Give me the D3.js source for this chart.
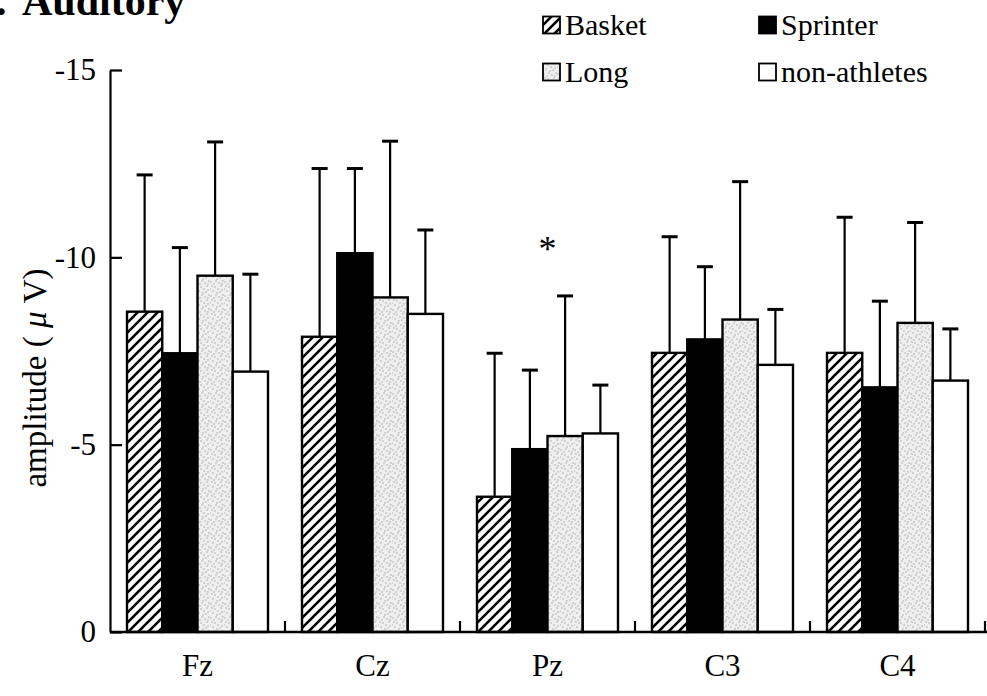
<!DOCTYPE html>
<html>
<head>
<meta charset="utf-8">
<script src="https://cdn.jsdelivr.net/npm/d3@7"></script>
<style>
  html, body { margin: 0; padding: 0; background: #fff; }
  svg { display: block; }
  text { font-family: "Liberation Serif", "Times New Roman", serif; fill: #000; }
</style>
</head>
<body>
<svg id="chart" width="987" height="696"></svg>
<script>
const categories = ["Fz", "Cz", "Pz", "C3", "C4"];
const groups = ["Basket", "Sprinter", "Long", "non-athletes"];
const basketMean = [-8.55, -7.88, -3.61, -7.45, -7.45];
const basketSD = [3.65, 4.49, 3.83, 3.10, 3.62];
const sprinterMean = [-7.44, -10.11, -4.88, -7.81, -6.53];
const sprinterSD = [2.82, 2.26, 2.11, 1.94, 2.30];
const longMean = [-9.51, -8.93, -5.23, -8.34, -8.25];
const longSD = [3.57, 4.17, 3.74, 3.68, 2.68];
const nonMean = [-6.95, -8.49, -5.30, -7.13, -6.71];
const nonSD = [2.60, 2.24, 1.29, 1.48, 1.38];
const yTicks = [0, -5, -10, -15];
const yTickLabels = ["0", "-5", "-10", "-15"];
const titleParts = [".", "Auditory"];
const sigMark = { category: "Pz", value: -10.35, text: "*" };

const means = [basketMean, sprinterMean, longMean, nonMean];
const sds = [basketSD, sprinterSD, longSD, nonSD];
const data = [];
categories.forEach((c, ci) => {
  groups.forEach((g, gi) => {
    data.push({ cat: c, grp: g, gi: gi, mean: means[gi][ci], sd: sds[gi][ci] });
  });
});

const svg = d3.select("#chart");
const defs = svg.append("defs");

// hatch pattern
const hatch = defs.append("pattern").attr("id", "hatch")
  .attr("patternUnits", "userSpaceOnUse").attr("width", 10).attr("height", 10);
hatch.append("rect").attr("width", 10).attr("height", 10).attr("fill", "#fff");
hatch.append("path").attr("d", "M-2,2 L2,-2 M0,10 L10,0 M8,12 L12,8")
  .attr("stroke", "#000").attr("stroke-width", 2.6);

// stipple pattern
const stip = defs.append("pattern").attr("id", "stipple")
  .attr("patternUnits", "userSpaceOnUse").attr("width", 14).attr("height", 14);
stip.append("rect").attr("width", 14).attr("height", 14).attr("fill", "#efefef");
const dots = [[1,2],[5,7],[9,3],[12,10],[3,11],[7,13],[11,6],[2,6],[8,9],[13,1],[4,4],[10,12],[6,1],[0,9],[12,4]];
stip.selectAll("circle").data(dots).enter().append("circle")
  .attr("cx", d => d[0]).attr("cy", d => d[1]).attr("r", 0.75).attr("fill", "#a8a8a8");

const fills = ["url(#hatch)", "#000", "url(#stipple)", "#fff"];

const y = d3.scaleLinear().domain([0, -15]).range([632, 70]);
const x0 = d3.scaleBand().domain(categories).range([110, 985]).padding(0);
const x1 = d3.scaleBand().domain(groups).range([17, 158]).padding(0);

// bars
svg.append("g").selectAll("rect").data(data).enter().append("rect")
  .attr("x", d => x0(d.cat) + x1(d.grp))
  .attr("y", d => y(d.mean))
  .attr("width", x1.bandwidth())
  .attr("height", d => y(0) - y(d.mean))
  .attr("fill", d => fills[d.gi])
  .attr("stroke", "#000").attr("stroke-width", 2.4);

// error bars
const eb = svg.append("g").selectAll("g").data(data).enter().append("g");
eb.append("line")
  .attr("x1", d => x0(d.cat) + x1(d.grp) + x1.bandwidth() / 2)
  .attr("x2", d => x0(d.cat) + x1(d.grp) + x1.bandwidth() / 2)
  .attr("y1", d => y(d.mean))
  .attr("y2", d => y(d.mean - d.sd))
  .attr("stroke", "#000").attr("stroke-width", 2.2);
eb.append("line")
  .attr("x1", d => x0(d.cat) + x1(d.grp) + x1.bandwidth() / 2 - 8)
  .attr("x2", d => x0(d.cat) + x1(d.grp) + x1.bandwidth() / 2 + 8)
  .attr("y1", d => y(d.mean - d.sd))
  .attr("y2", d => y(d.mean - d.sd))
  .attr("stroke", "#000").attr("stroke-width", 3);

// y axis
const yAxis = d3.axisLeft(y).tickValues(yTicks)
  .tickFormat((d, i) => yTickLabels[i])
  .tickSize(-12).tickSizeOuter(0).tickPadding(14);
const gy = svg.append("g").attr("transform", "translate(110,0)").call(yAxis);
gy.select(".domain").attr("stroke", "#000").attr("stroke-width", 2.2);
gy.selectAll(".tick line").attr("stroke", "#000").attr("stroke-width", 2.2);
gy.selectAll(".tick text").attr("font-size", 31)
  .attr("font-family", "Liberation Serif").attr("fill", "#000");

// x axis
svg.append("line").attr("x1", 110).attr("x2", 987).attr("y1", y(0)).attr("y2", y(0))
  .attr("stroke", "#000").attr("stroke-width", 2.4);
svg.append("g").selectAll("line").data(categories).enter().append("line")
  .attr("x1", d => x0(d) + x0.bandwidth()).attr("x2", d => x0(d) + x0.bandwidth())
  .attr("y1", y(0)).attr("y2", y(0) - 11)
  .attr("stroke", "#000").attr("stroke-width", 2.2);
svg.append("g").selectAll("text").data(categories).enter().append("text")
  .attr("x", d => x0(d) + x0.bandwidth() / 2).attr("y", 676)
  .attr("text-anchor", "middle").attr("font-size", 31).text(d => d);

// y label
const yl = svg.append("text")
  .attr("transform", "translate(46,378) rotate(-90)")
  .attr("text-anchor", "middle").attr("font-size", 33);
yl.append("tspan").text("amplitude ( ");
yl.append("tspan").attr("font-style", "italic").text("μ");
yl.append("tspan").text(" V)");

// significance
svg.append("text")
  .attr("x", x0(sigMark.category) + x0.bandwidth() / 2)
  .attr("y", y(sigMark.value) + 17)
  .attr("text-anchor", "middle").attr("font-size", 36).text(sigMark.text);

// title (top clipped as in the reference)
const tt = svg.append("text").attr("y", 15)
  .attr("font-size", 42).attr("font-weight", "bold");
tt.append("tspan").attr("x", -4).text(titleParts[0]);
tt.append("tspan").attr("x", 22).text(titleParts[1]);

// legend
const legendPos = [[543, 25], [759, 25], [543, 72], [759, 72]];
const lg = svg.append("g").selectAll("g").data(groups).enter().append("g")
  .attr("transform", (d, i) => `translate(${legendPos[i][0]},${legendPos[i][1]})`);
lg.append("rect").attr("x", 0).attr("y", -8.5).attr("width", 17).attr("height", 17)
  .attr("fill", (d, i) => fills[i]).attr("stroke", "#000").attr("stroke-width", 1.8);
lg.append("text").attr("x", 22).attr("y", 10).attr("font-size", 30).text(d => d);
</script>
</body>
</html>
